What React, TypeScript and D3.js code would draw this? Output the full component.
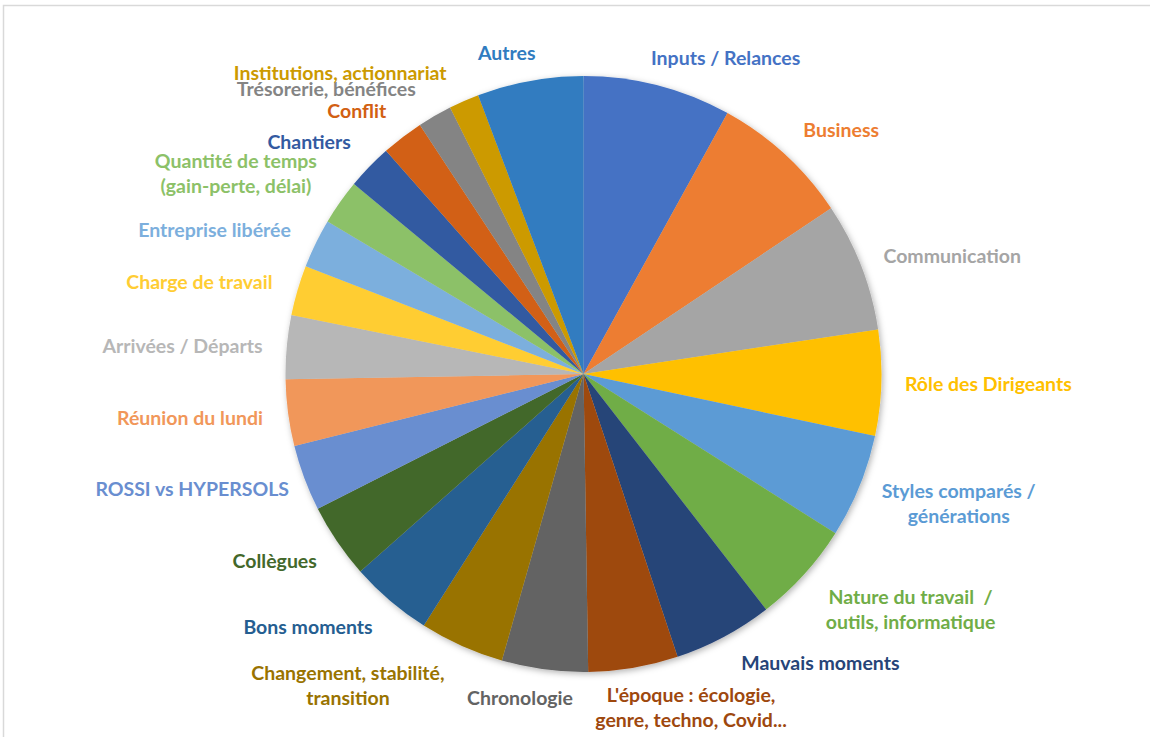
import React from 'react';
import * as d3 from 'd3';

// ---- data (slice shares) ----
const categories: string[] = [
  'Inputs / Relances',
  'Business',
  'Communication',
  'Rôle des Dirigeants',
  'Styles comparés /\ngénérations',
  'Nature du travail  /\noutils, informatique',
  'Mauvais moments',
  "L'époque : écologie,\ngenre, techno, Covid...",
  'Chronologie',
  'Changement, stabilité,\ntransition',
  'Bons moments',
  'Collègues',
  'ROSSI vs HYPERSOLS',
  'Réunion du lundi',
  'Arrivées / Départs',
  'Charge de travail',
  'Entreprise libérée',
  'Quantité de temps\n(gain-perte, délai)',
  'Chantiers',
  'Conflit',
  'Trésorerie, bénéfices',
  'Institutions, actionnariat',
  'Autres',
];

const values: number[] = [
  28.9, 27.3, 25.2, 20.6, 20.3, 19.9, 19.4, 17.5, 16.8, 16.5, 16.1, 14.6,
  12.9, 13.0, 12.4, 9.8, 9.6, 8.8, 8.9, 8.2, 6.7, 5.9, 20.7,
];

// ---- styles ----
const colors: string[] = [
  '#4472C4', '#ED7D31', '#A5A5A5', '#FFC000', '#5B9BD5', '#70AD47',
  '#264478', '#9E480E', '#636363', '#997300', '#255E91', '#43682B',
  '#698ED0', '#F1975A', '#B7B7B7', '#FFCD33', '#7CAFDD', '#8CC168',
  '#335AA1', '#D26012', '#848484', '#CC9A00', '#307CC0',
];

// label placement: angular shift (deg) from slice mid-angle and distance from centre
const labelAngleShift: number[] = [
  9.8, 4.0, 3.5, -0.3, -3.1, -6.5, -11.2, -8.2, 3.6, 12.9, 7.0, 3.0,
  4.0, 1.1, -1.2, -2.8, -4.7, -5.3, -3.9, -3.4, -12.1, -15.3, -3.1,
];
const labelDistance: number[] = [
  346, 355, 387, 405, 397, 403, 374, 351, 330, 391, 374, 361,
  408, 396, 402, 395, 396, 401, 359, 347, 384, 387, 330,
];

const W = 1150;
const H = 737;
const CX = 583.5;
const CY = 374;
const R = 298;
const LINE_H = 25;
const TEXT_DY = -1.2;

export default function App() {
  const pie = d3
    .pie<number>()
    .sort(null)
    .value((d) => d)
    .startAngle(0)
    .endAngle(2 * Math.PI);
  const arcs = pie(values);
  const arc = d3.arc<d3.PieArcDatum<number>>().innerRadius(0).outerRadius(R);

  return (
    <div style={{ position: 'absolute', left: 0, top: 0 }}>
      <svg width={W} height={H} style={{ display: 'block' }}>
        <defs>
          <filter id="pieShadow" x="-10%" y="-10%" width="120%" height="120%">
            <feDropShadow dx="1.5" dy="2" stdDeviation="3" floodColor="#000" floodOpacity="0.3" />
          </filter>
        </defs>
        <rect x={3.5} y={5.5} width={W + 20} height={H + 20} fill="#fff" stroke="#d9d9d9" strokeWidth={1.5} />
        <g transform={`translate(${CX},${CY})`}>
          <g filter="url(#pieShadow)">
            {arcs.map((a, i) => (
              <path key={i} d={arc(a) || ''} fill={colors[i]} />
            ))}
          </g>
          {arcs.map((a, i) => {
            const mid = (a.startAngle + a.endAngle) / 2 + (labelAngleShift[i] * Math.PI) / 180;
            const x = labelDistance[i] * Math.sin(mid);
            const y = -labelDistance[i] * Math.cos(mid) + TEXT_DY;
            const lines = categories[i].split('\n');
            const y0 = y - ((lines.length - 1) * LINE_H) / 2;
            return (
              <text
                key={i}
                x={x}
                y={y0}
                textAnchor="middle"
                dominantBaseline="central"
                fill={colors[i]}
                style={{ fontFamily: 'Lato, "Open Sans", sans-serif', fontWeight: 700, fontSize: 19.5 }}
              >
                {lines.map((ln, j) => (
                  <tspan key={j} x={x} y={y0 + j * LINE_H} style={{ whiteSpace: 'pre' }}>
                    {ln}
                  </tspan>
                ))}
              </text>
            );
          })}
        </g>
      </svg>
    </div>
  );
}
